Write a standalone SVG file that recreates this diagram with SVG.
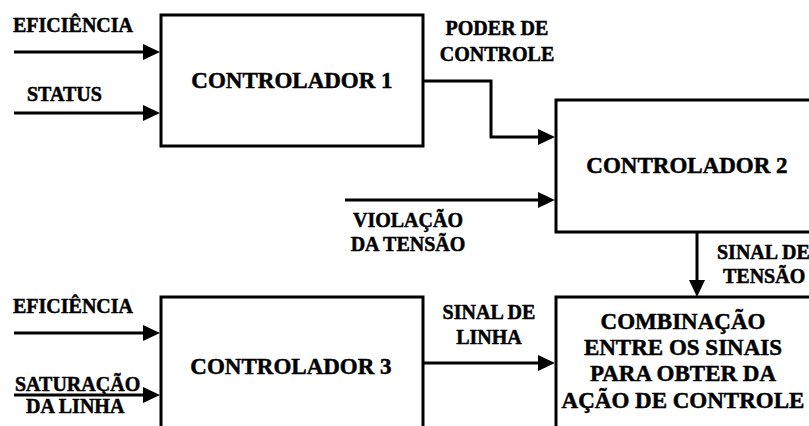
<svg xmlns="http://www.w3.org/2000/svg" width="809" height="426" viewBox="0 0 809 426">
<style>
.box{fill:#fff;stroke:#000;stroke-width:3}
.ln{fill:none;stroke:#000;stroke-width:3;marker-end:url(#ah)}
text{font-family:"Liberation Serif","Times New Roman",serif;font-weight:bold;fill:#000;stroke:#000;stroke-width:0.5}
.big{font-size:23px;text-anchor:middle}
.sm{font-size:20px}
.smc{font-size:20px;text-anchor:middle}
</style>
<defs>
<marker id="ah" markerUnits="userSpaceOnUse" markerWidth="17" markerHeight="16" refX="7" refY="8" orient="auto" overflow="visible">
<path d="M0,0 L17,8 L0,16 z" fill="#000"/>
</marker>
</defs>
<rect width="809" height="426" fill="#fff"/>
<g id="connectors">
<path class="ln" d="M14 52 H150"/>
<path class="ln" d="M14 113 H150"/>
<path class="ln" d="M423 81 H491 V137 H545"/>
<path class="ln" d="M345 200 H545"/>
<path class="ln" d="M697 232 V287"/>
<path class="ln" d="M14 333 H150"/>
<path class="ln" d="M14 395 H150"/>
<path class="ln" d="M423 363 H545"/>
</g>
<g id="c1">
<rect class="box" x="161" y="15" width="262" height="131"/>
<text class="big" x="292" y="88">CONTROLADOR 1</text>
</g>
<g id="c2">
<rect class="box" x="556" y="100" width="300" height="132"/>
<text class="big" x="687" y="173">CONTROLADOR 2</text>
</g>
<g id="c3">
<rect class="box" x="161" y="297" width="262" height="200"/>
<text class="big" x="291" y="374">CONTROLADOR 3</text>
</g>
<g id="c4">
<rect class="box" x="556" y="297" width="300" height="200"/>
<text class="big" x="683" y="329">COMBINAÇÃO</text>
<text class="big" x="683" y="355">ENTRE OS SINAIS</text>
<text class="big" x="683" y="381">PARA OBTER DA</text>
<text class="big" x="683" y="408">AÇÃO DE CONTROLE</text>
</g>
<g id="labels">
<text class="sm" x="13" y="32">EFICIÊNCIA</text>
<text class="sm" x="27" y="101">STATUS</text>
<text class="smc" x="497" y="35">PODER DE</text>
<text class="smc" x="497" y="61">CONTROLE</text>
<text class="smc" x="408" y="227">VIOLAÇÃO</text>
<text class="smc" x="408" y="251">DA TENSÃO</text>
<text class="sm" x="717" y="259">SINAL DE</text>
<text class="sm" x="723" y="283">TENSÃO</text>
<text class="sm" x="13" y="313">EFICIÊNCIA</text>
<text class="sm" x="15" y="391">SATURAÇÃO</text>
<text class="sm" x="26" y="413">DA LINHA</text>
<text class="smc" x="489" y="319">SINAL DE</text>
<text class="smc" x="489" y="344">LINHA</text>
</g>
</svg>
